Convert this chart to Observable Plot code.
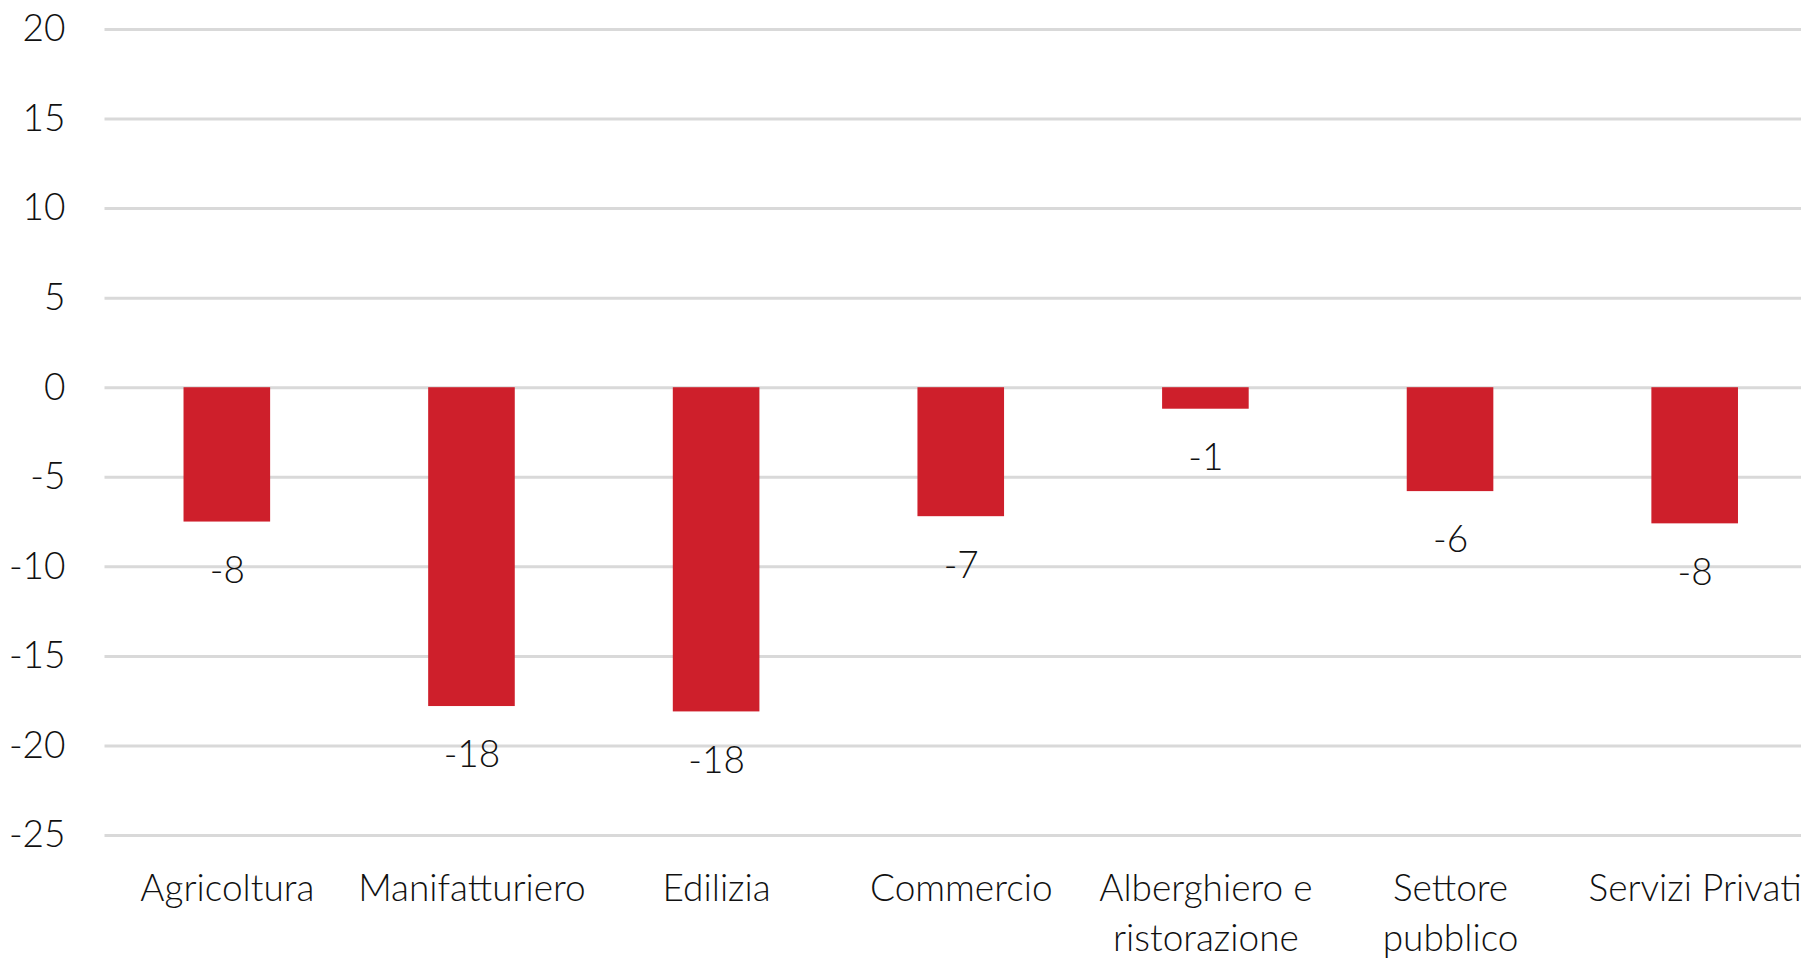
<!DOCTYPE html>
<html>
<head>
<meta charset="utf-8">
<script src="https://cdn.jsdelivr.net/npm/d3@7"></script>
<script src="https://cdn.jsdelivr.net/npm/@observablehq/plot@0.6"></script>
<style>
  html, body { margin: 0; padding: 0; background: #fff; overflow: hidden; }
  #chart svg { display: block; overflow: hidden; }
</style>
</head>
<body>
<div id="chart"></div>
<script>
const categories = ["Agricoltura", "Manifatturiero", "Edilizia", "Commercio", "Alberghiero e\nristorazione", "Settore\npubblico", "Servizi Privati"];
const values = [-7.5, -17.8, -18.1, -7.2, -1.2, -5.8, -7.6];
const labels = ["-8", "-18", "-18", "-7", "-1", "-6", "-8"];
const yTicks = [20, 15, 10, 5, 0, -5, -10, -15, -20, -25];

const data = categories.map((c, i) => ({category: c, value: values[i], label: labels[i]}));

const font = "Lato, 'Source Sans Pro', sans-serif";

const chart = Plot.plot({
  width: 1801,
  height: 960,
  marginLeft: 104.5,
  marginRight: -16,
  marginTop: 29,
  marginBottom: 125,
  style: {fontFamily: font, fontWeight: 300, color: "#111", background: "#fff"},
  x: {domain: categories, paddingInner: 0.646, paddingOuter: 0.323, round: false, label: null},
  y: {domain: [-25, 20], label: null},
  marks: [
    Plot.gridY(yTicks, {stroke: "#d9d9d9", strokeOpacity: 1, strokeWidth: 3}),
    Plot.barY(data, {x: "category", y1: 0, y2: "value", fill: "#ce1f2b"}),
    Plot.text(data, {x: "category", y: "value", text: "label", dy: 49, lineAnchor: "middle", fontSize: 37, fontWeight: 300, fill: "#111"}),
    Plot.axisY(yTicks, {tickSize: 0, tickPadding: 39.5, fontSize: 37, fontWeight: 300, tickFormat: d => String(d), label: null}),
    Plot.axisX({tickSize: 0, tickPadding: 31, fontSize: 37, fontWeight: 300, lineHeight: 1.33, label: null})
  ]
});
document.getElementById("chart").appendChild(chart);
</script>
</body>
</html>
